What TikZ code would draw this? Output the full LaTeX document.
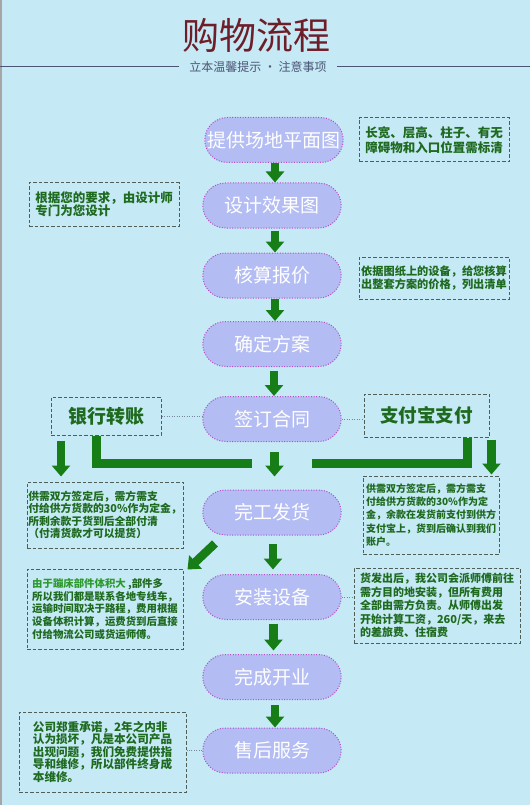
\documentclass[tikz,border=0pt]{standalone}
\usepackage{fontspec}
\setmainfont{Noto Sans CJK SC}
\usetikzlibrary{arrows.meta,shapes.misc}

\definecolor{bgblue}{HTML}{C6E9F6}
\definecolor{pillfill}{HTML}{B3BCF3}
\definecolor{pillline}{HTML}{B84BC8}
\definecolor{flowgreen}{HTML}{177E17}
\definecolor{notegreen}{HTML}{1E6A1E}
\definecolor{shipgreen}{HTML}{2E9A2E}
\definecolor{dashgray}{HTML}{4F5F58}
\definecolor{linkgray}{HTML}{7A86A0}
\definecolor{titlered}{HTML}{6E1E28}
\definecolor{rulegray}{HTML}{4A5575}

\tikzset{
  stepbox/.style={rounded rectangle, fill=pillfill, draw=pillline, line width=1pt,
    dash pattern=on 1pt off 1.6pt, minimum width=145pt, minimum height=45pt,
    text=white, font=\fontsize{19}{22}\selectfont},
  notebox/.style={draw=dashgray, line width=1pt, dash pattern=on 3.5pt off 2pt,
    text=notegreen, align=left, inner sep=0pt},
  flowarrow/.style={draw=flowgreen, line width=8.5pt, -{Triangle[width=18pt,length=11pt]}},
  flowbar/.style={draw=flowgreen, line width=9pt},
  link/.style={draw=linkgray, line width=0.8pt, dash pattern=on 1pt off 1.5pt}
}

\begin{document}
\begin{tikzpicture}[x=1pt,y=-1pt]
\useasboundingbox (0,0) rectangle (530,805);
\fill[bgblue] (0,0) rectangle (530,805);
\fill[gray!70] (0,0) rectangle (1.5,805);

% Title
\node[text=titlered, font=\fontsize{37}{40}\selectfont] (title) at (256,35) {购物流程};
\node[text=rulegray, inner xsep=10pt, font=\fontsize{12}{14}\selectfont] (subtitle) at (258,67) {立本温馨提示 · 注意事项};
\coordinate (ruleL) at (0,67);
\coordinate (ruleR) at (530,67);
\draw[rulegray, line width=1pt] (ruleL) -- (subtitle.west);
\draw[rulegray, line width=1pt] (subtitle.east) -- (ruleR);

% Steps
\node[stepbox] (plan) at (274,140) {提供场地平面图};
\node[stepbox] (design) at (272,205.5) {设计效果图};
\node[stepbox] (quote) at (272,275.5) {核算报价};
\node[stepbox] (confirm) at (272,344) {确定方案};
\node[stepbox] (sign) at (272,419) {签订合同};
\node[stepbox] (deliver) at (272,512.5) {完工发货};
\node[stepbox] (install) at (272,597) {安装设备};
\node[stepbox] (open) at (272,677) {完成开业};
\node[stepbox] (service) at (272,750.5) {售后服务};

% Notes
\node[notebox, minimum width=150pt, minimum height=44pt, font=\bfseries\fontsize{12.5}{14.5}\selectfont]
  (floor) at (434,140) {长宽、层高、柱子、有无\\障碍物和入口位置需标清};
\node[notebox, minimum width=150pt, minimum height=43pt, font=\bfseries\fontsize{12.5}{13}\selectfont]
  (request) at (104,204.5) {根据您的要求，由设计师\\专门为您设计\hspace{62pt}};
\node[notebox, minimum width=150pt, minimum height=42pt, font=\bfseries\fontsize{11.2}{12.8}\selectfont]
  (price) at (434,278) {依据图纸上的设备，给您核算\\出整套方案的价格，列出清单};
\node[notebox, minimum width=110pt, minimum height=38pt, font=\bfseries\fontsize{19}{22}\selectfont]
  (bank) at (106,416) {银行转账};
\node[notebox, minimum width=125pt, minimum height=43pt, font=\bfseries\fontsize{18.5}{22}\selectfont]
  (alipay) at (426.5,415.5) {支付宝支付};
\node[notebox, minimum width=156pt, minimum height=66pt, font=\bfseries\fontsize{10.8}{12.4}\selectfont]
  (payA) at (105,515) {供需双方签定后，需方需支\\付给供方货款的30\%作为定金，\\所剩余款于货到后全部付清\\（付清货款才可以提货）};
\node[notebox, minimum width=136pt, minimum height=78pt, font=\bfseries\fontsize{10}{13.3}\selectfont]
  (payB) at (431,515) {供需双方签定后，需方需支\\付给供方货款的30\%作为定\\金，余款在发货前支付到供方\\支付宝上，货到后确认到我们\\账户。};
\node[notebox, minimum width=156pt, minimum height=80pt, font=\bfseries\fontsize{10.4}{12.9}\selectfont]
  (ship) at (105,609) {{\color{shipgreen}由于蹦床部件体积大} ,部件多\\所以我们都是联系各地专线车，\\运输时间取决于路程，费用根据\\设备体积计算，运费货到后直接\\付给物流公司或货运师傅。};
\node[notebox, minimum width=166pt, minimum height=75pt, font=\bfseries\fontsize{11}{13.5}\selectfont]
  (fee) at (437,605.5) {货发出后，我公司会派师傅前往\\需方目的地安装，但所有费用\\全部由需方负责。从师傅出发\\开始计算工资，260/天，来去\\的差旅费、住宿费};
\node[notebox, minimum width=167pt, minimum height=80pt, font=\bfseries\fontsize{11.6}{12.5}\selectfont]
  (warranty) at (102.5,752) {公司郑重承诺，2年之内非\\认为损坏，凡是本公司产品\\出现问题，我们免费提供指\\导和维修，所以部件终身成\\本维修。};

% Links
\draw[link] (bank.east) -- (bank.east -| sign.west);
\draw[link] (sign.east) -- (sign.east -| alipay.west);
\draw[link] (install.east) -- (install.east -| fee.west);
\draw[link] (service.west) -- (service.west -| warranty.east);

% Arrows
\draw[flowarrow] ([xshift=1pt]plan.south) -- ([xshift=3pt]design.north);
\draw[flowarrow] ([xshift=3pt,yshift=-2pt]design.south) -- ([xshift=3pt]quote.north);
\draw[flowarrow] ([xshift=3pt]quote.south) -- ([xshift=3pt]confirm.north);
\draw[flowarrow] ([xshift=2pt,yshift=-4pt]confirm.south) -- ([xshift=2pt]sign.north);
\draw[flowarrow] ([xshift=2.5pt,yshift=-10pt]sign.south) -- ([xshift=2.5pt,yshift=13pt]deliver.north);
\draw[flowarrow] ([xshift=1pt,yshift=-8pt]deliver.south) -- ([xshift=1pt,yshift=4.5pt]install.north);
\draw[flowarrow] ([xshift=1.5pt,yshift=-3.5pt]install.south) -- ([xshift=1.5pt,yshift=3.5pt]open.north);
\draw[flowarrow] ([xshift=3pt,yshift=-5pt]open.south) -- ([xshift=3pt]service.north);
\draw[flowarrow] ([xshift=-57pt,yshift=-8pt]deliver.south) -- ([xshift=4pt,yshift=-1pt]ship.north east);

% Payment bars
\coordinate (jL) at (252,463.5);
\coordinate (jR) at (312,463.5);
\draw[flowbar] ([xshift=-9.5pt]bank.south) |- (jL);
\draw[flowbar] ([xshift=40.5pt]alipay.south) |- (jR);
\draw[flowarrow] ([xshift=-45pt,yshift=-5pt]bank.south) -- ([xshift=-44pt,yshift=5pt]payA.north);
\draw[flowarrow] ([xshift=65pt,yshift=-2pt]alipay.south) -- ([xshift=60.5pt,yshift=1pt]payB.north);
\end{tikzpicture}
\end{document}
